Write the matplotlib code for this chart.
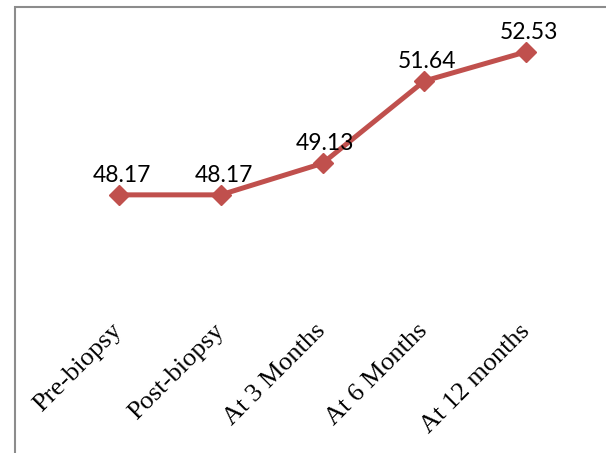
import matplotlib.pyplot as plt
import matplotlib.patches as patches

# Data
stages = ['Pre-biopsy', 'Post-biopsy', 'At 3 Months', 'At 6 Months', 'At 12 months']
values = [48.17, 48.17, 49.13, 51.64, 52.53]

W, H = 606, 453
fig = plt.figure(figsize=(W / 100, H / 100), dpi=100)

# axes placed so category centres / values land where the reference has them
ax = fig.add_axes([68 / W, 1 - 290 / H, 509 / W, 270 / H])
ax.set_xlim(-0.5, 4.5)
ax.set_ylim(45.27, 53.50)

x = list(range(len(stages)))
ax.plot(x, values, '-', color='#C0504D', linewidth=3.6, marker='D', markersize=10.5,
        markerfacecolor='#C0504D', markeredgecolor='#C0504D', zorder=3)

# data labels above each point
for xi, v in zip(x, values):
    ax.annotate(f"{v:.2f}", xy=(xi, v), xytext=(2, 9.5), textcoords='offset points',
                ha='center', va='baseline', fontsize=16.5, family='Lato', color='black')

ax.set_xticks(x)
ax.set_xticklabels(stages, rotation=45, ha='right', va='center', rotation_mode='anchor',
                   fontsize=19, family='Liberation Serif')
ax.tick_params(axis='x', length=0, pad=27)
ax.set_yticks([])
for s in ax.spines.values():
    s.set_visible(False)
ax.patch.set_alpha(0)

# chart border (only top and left visible in the crop)
fig.patches.append(patches.Rectangle((14.5 / W, -0.1), 1.2, 1.1 - 7 / H,
                                     transform=fig.transFigure, fill=False,
                                     edgecolor='#8c8c8c', linewidth=1.5))

plt.savefig('out.png', dpi=100)
